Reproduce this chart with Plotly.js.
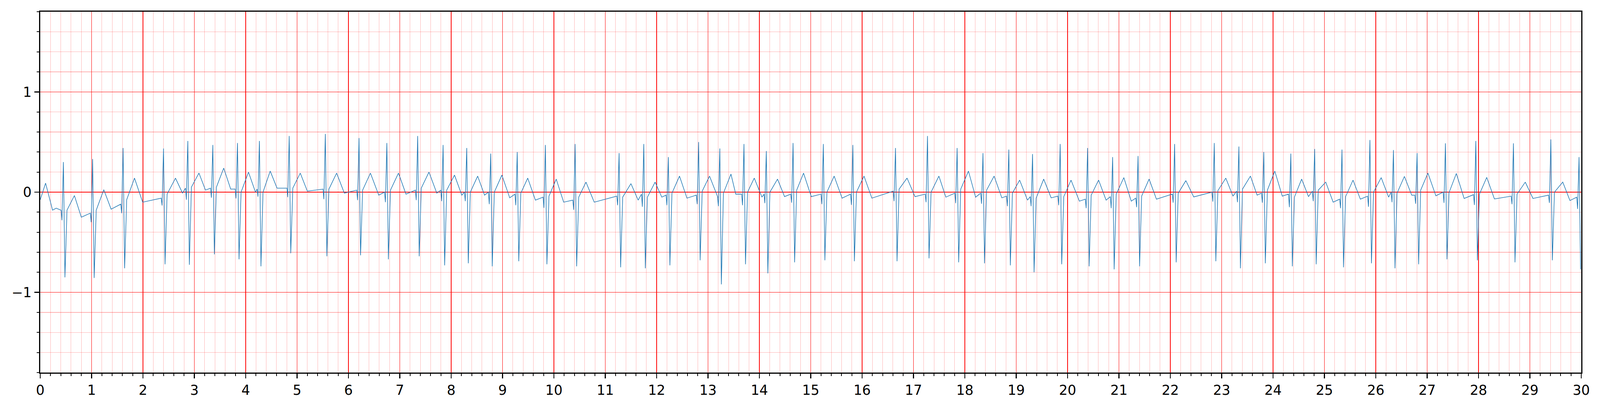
<!DOCTYPE html>
<html>
<head>
<meta charset="utf-8">
<script src="https://cdn.plot.ly/plotly-3.0.1.min.js"></script>
<style>
  html, body { margin: 0; padding: 0; background: #fff; overflow: hidden; }
  #ecg { position: absolute; left: 0; top: 0; }
</style>
</head>
<body>
<div id="ecg"></div>
<script>
// trace before the first beat (seconds / mV)
const leadTime = [0, 0.104, 0.24, 0.31];
const leadAmp = [-0.076, 0.09, -0.18, -0.16];

// one entry per beat
const rTime = [0.451, 1.02, 1.613, 2.40, 2.873, 3.36, 3.84, 4.267, 4.847, 5.55,
    6.206, 6.748, 7.348, 7.843, 8.303, 8.77, 9.286, 9.834, 10.413, 11.269,
    11.75, 12.228, 12.817, 13.23, 13.70, 14.135, 14.656, 15.245, 15.82, 16.65,
    17.273, 17.85, 18.353, 18.856, 19.318, 19.856, 20.39, 20.877, 21.372, 22.084,
    22.856, 23.335, 23.82, 24.346, 24.81, 25.342, 25.886, 26.344, 26.804, 27.356,
    27.948, 28.68, 29.408, 29.957];
const preAmp = [-0.18, -0.21, -0.12, -0.06, 0.04, 0.04, 0.03, 0.03, 0.04, 0.03,
    0.02, 0.0, 0.02, 0.02, 0.0, 0.0, -0.02, -0.05, -0.08, -0.04,
    -0.02, -0.03, -0.03, -0.05, -0.02, -0.02, -0.02, -0.02, -0.02, 0.01,
    -0.02, -0.01, -0.01, -0.04, -0.045, -0.04, -0.07, -0.045, -0.06, -0.02,
    0.0, 0.01, -0.01, -0.02, 0.01, -0.07, -0.04, 0.0, -0.03, 0.0,
    -0.025, -0.04, -0.03, -0.05];
const qAmp = [-0.28, -0.30, -0.21, -0.133, -0.076, -0.055, -0.063, -0.045, -0.05, -0.07,
    -0.08, -0.10, -0.08, -0.09, -0.09, -0.12, -0.13, -0.157, -0.176, -0.13,
    -0.146, -0.13, -0.12, -0.14, -0.13, -0.11, -0.105, -0.12, -0.127, -0.09,
    -0.10, -0.11, -0.116, -0.14, -0.14, -0.13, -0.16, -0.16, -0.15, -0.105,
    -0.094, -0.10, -0.105, -0.15, -0.09, -0.16, -0.146, -0.10, -0.116, -0.107,
    -0.128, -0.12, -0.107, -0.167];
const rAmp = [0.30, 0.33, 0.44, 0.435, 0.51, 0.47, 0.49, 0.51, 0.56, 0.58,
    0.54, 0.49, 0.56, 0.47, 0.44, 0.385, 0.40, 0.47, 0.48, 0.39,
    0.48, 0.35, 0.50, 0.435, 0.48, 0.41, 0.49, 0.48, 0.47, 0.44,
    0.56, 0.44, 0.39, 0.425, 0.38, 0.48, 0.44, 0.35, 0.36, 0.48,
    0.49, 0.455, 0.40, 0.385, 0.43, 0.425, 0.52, 0.42, 0.39, 0.487,
    0.51, 0.487, 0.526, 0.35];
const sAmp = [-0.85, -0.856, -0.76, -0.72, -0.725, -0.62, -0.67, -0.74, -0.61, -0.64,
    -0.63, -0.67, -0.64, -0.73, -0.71, -0.74, -0.69, -0.72, -0.74, -0.75,
    -0.76, -0.73, -0.68, -0.92, -0.72, -0.81, -0.70, -0.68, -0.69, -0.69,
    -0.66, -0.70, -0.71, -0.73, -0.80, -0.72, -0.74, -0.77, -0.74, -0.70,
    -0.69, -0.76, -0.71, -0.74, -0.72, -0.75, -0.71, -0.76, -0.72, -0.67,
    -0.68, -0.70, -0.68, -0.77];
const jAmp = [-0.18, -0.18, -0.076, -0.02, 0.05, 0.05, 0.0, 0.0, 0.04, 0.03,
    0.02, 0.02, 0.04, 0.02, 0.0, 0.0, -0.01, -0.04, -0.05, -0.05,
    -0.05, -0.01, 0.01, -0.01, 0.0, 0.0, 0.02, 0.0, 0.0, 0.03,
    0.0, 0.03, 0.02, -0.01, -0.06, -0.045, -0.03, -0.02, -0.04, -0.01,
    0.015, 0.03, 0.02, -0.05, 0.02, -0.045, 0.0, -0.01, 0.02, -0.005,
    -0.02, -0.02, 0.0, null];
const tTime = [0.665, 1.237, 1.835, 2.633, 3.09, 3.572, 4.054, 4.477, 5.062, 5.77,
    6.428, 6.974, 7.568, 8.065, 8.516, 8.987, 9.49, 10.045, 10.624, 11.50,
    11.97, 12.445, 13.03, 13.447, 13.90, 14.353, 14.86, 15.456, 16.037, 16.875,
    17.495, 18.07, 18.57, 19.067, 19.535, 20.067, 20.604, 21.095, 21.587, 22.303,
    23.08, 23.56, 24.034, 24.557, 25.026, 25.557, 26.105, 26.557, 27.015, 27.568,
    28.16, 28.91, 29.64, null];
const tAmp = [-0.034, 0.024, 0.14, 0.14, 0.19, 0.24, 0.20, 0.21, 0.19, 0.19,
    0.19, 0.19, 0.20, 0.17, 0.16, 0.17, 0.14, 0.13, 0.10, 0.085,
    0.10, 0.16, 0.16, 0.18, 0.14, 0.13, 0.19, 0.16, 0.16, 0.14,
    0.16, 0.21, 0.16, 0.12, 0.13, 0.12, 0.12, 0.145, 0.13, 0.115,
    0.14, 0.16, 0.21, 0.13, 0.10, 0.12, 0.145, 0.157, 0.19, 0.186,
    0.147, 0.10, 0.10, null];
const endTime = [0.80, 1.38, 1.994, 2.77, 3.217, 3.708, 4.19, 4.61, 5.2, 5.92,
    6.59, 7.12, 7.72, 8.207, 8.65, 9.14, 9.64, 10.19, 10.785, 11.64,
    12.10, 12.59, 13.19, 13.54, 14.05, 14.49, 15.01, 15.61, 16.19, 17.03,
    17.63, 18.21, 18.72, 19.22, 19.68, 20.23, 20.75, 21.24, 21.73, 22.456,
    23.22, 23.69, 24.18, 24.69, 25.17, 25.70, 26.25, 26.70, 27.17, 27.72,
    28.31, 29.06, 29.78, null];
const endAmp = [-0.25, -0.17, -0.10, -0.01, 0.02, 0.03, 0.0, 0.04, 0.01, -0.01,
    -0.03, -0.02, -0.01, -0.03, -0.03, -0.057, -0.08, -0.10, -0.10, -0.08,
    -0.05, -0.06, -0.05, -0.02, -0.05, -0.045, -0.045, -0.06, -0.06, -0.045,
    -0.05, -0.05, -0.057, -0.08, -0.057, -0.09, -0.08, -0.09, -0.07, -0.048,
    -0.04, -0.03, -0.04, -0.045, -0.10, -0.07, -0.05, -0.03, -0.037, -0.063,
    -0.068, -0.063, -0.084, null];

// QRS timing around each R peak (s)
const qOffset = -0.028, preOffset = -0.045, sOffset = 0.03, jOffset = 0.07;

const t = leadTime.slice();
const v = leadAmp.slice();
rTime.forEach(function (tr, i) {
    t.push(tr + preOffset, tr + qOffset, tr, tr + sOffset);
    v.push(preAmp[i], qAmp[i], rAmp[i], sAmp[i]);
    if (tTime[i] !== null) {
        t.push(tr + jOffset, tTime[i], endTime[i]);
        v.push(jAmp[i], tAmp[i], endAmp[i]);
    }
});

// fit whatever viewport we get, scaled from the 4827x1055 design
var W = window.innerWidth || 4827;
var H = window.innerHeight || 1055;
var sx = W / 4827, sy = H / 1055, s = Math.min(sx, sy);
document.getElementById('ecg').style.width = W + 'px';
document.getElementById('ecg').style.height = H + 'px';

var trace = {
    type: 'scatter',
    mode: 'lines',
    x: t,
    y: v,
    line: {color: '#1f77b4', width: 1.8 * s},
    hoverinfo: 'skip',
    showlegend: false
};

var font = {family: 'DejaVu Sans, sans-serif', size: 41 * s, color: '#000'};

function axis(range, standoff) {
    return {
        range: range,
        tick0: 0,
        dtick: 1,
        showline: true,
        mirror: true,
        linecolor: '#000',
        linewidth: 3 * s,
        ticks: 'outside',
        ticklen: 15 * s,
        tickwidth: 3 * s,
        tickcolor: '#000',
        ticklabelstandoff: standoff * s,
        tickfont: font,
        showgrid: true,
        gridcolor: '#ff0000',
        gridwidth: 1.6 * s,
        zeroline: false,
        minor: {
            tick0: 0,
            dtick: 0.2,
            ticks: 'outside',
            ticklen: 8 * s,
            tickwidth: 2.4 * s,
            tickcolor: '#000',
            showgrid: true,
            gridcolor: 'rgba(255,0,0,0.3)',
            gridwidth: 1.3 * s
        }
    };
}

var layout = {
    width: W,
    height: H,
    margin: {l: 121 * sx, r: 56 * sx, t: 30 * sy, b: 101 * sy, pad: 0},
    paper_bgcolor: '#fff',
    plot_bgcolor: '#fff',
    font: font,
    xaxis: axis([0, 30], 10),
    yaxis: axis([-1.8, 1.8], 12)
};

Plotly.newPlot('ecg', [trace], layout, {staticPlot: true, displayModeBar: false});
</script>
</body>
</html>
